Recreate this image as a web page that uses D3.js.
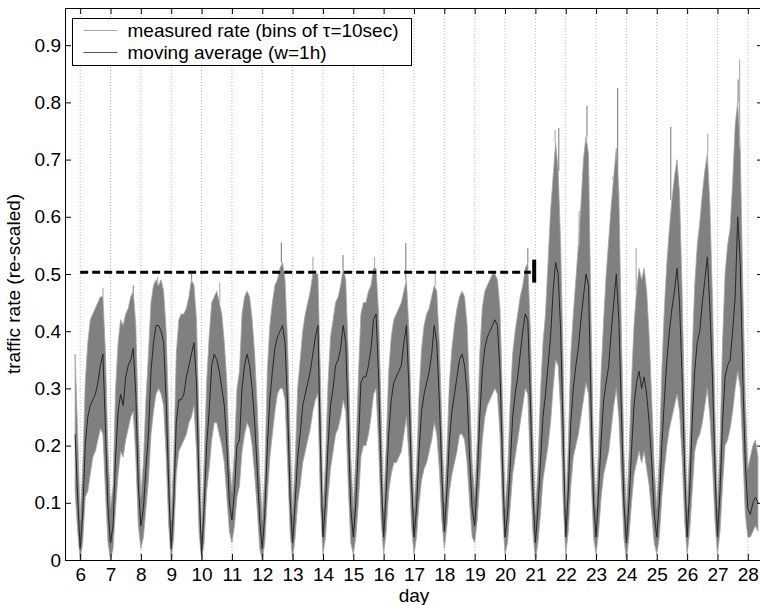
<!DOCTYPE html>
<html>
<head>
<meta charset="utf-8">
<script src="https://cdn.jsdelivr.net/npm/d3@7"></script>
<style>
  body { margin: 0; background: #fff; }
  svg { display: block; font-family: "Liberation Sans", Arial, sans-serif; }
</style>
</head>
<body>
<script>
var w = 760;
var h = 605;
var margin = {top: 8, right: -3, bottom: 45, left: 65};
var fontSize = "19px";

// samples every 2 hours, first sample at day 5 + 20h
var startDay = 5 + 20 / 24;
var stepDay = 2 / 24;

var dayTicks = [6, 7, 8, 9, 10, 11, 12, 13, 14, 15, 16, 17, 18, 19, 20, 21, 22, 23, 24, 25, 26, 27, 28];
var rateTicks = [0, 0.1, 0.2, 0.3, 0.4, 0.5, 0.6, 0.7, 0.8, 0.9];

// moving average (w=1h)
var meanRate = [
  0.22, 0.11,                                                          // day 5
  0.02, 0.08, 0.20, 0.25, 0.27, 0.28, 0.29, 0.31, 0.34, 0.36, 0.23, 0.09, // 6
  0.03, 0.06, 0.18, 0.26, 0.29, 0.27, 0.32, 0.34, 0.35, 0.37, 0.29, 0.13, // 7
  0.06, 0.09, 0.16, 0.22, 0.33, 0.38, 0.41, 0.41, 0.40, 0.38, 0.28, 0.13, // 8
  0.02, 0.10, 0.24, 0.28, 0.28, 0.29, 0.32, 0.34, 0.36, 0.38, 0.31, 0.13, // 9
  0.01, 0.09, 0.20, 0.26, 0.34, 0.36, 0.35, 0.33, 0.30, 0.27, 0.20, 0.10, // 10
  0.07, 0.12, 0.20, 0.21, 0.30, 0.34, 0.36, 0.34, 0.30, 0.24, 0.16, 0.07, // 11
  0.02, 0.08, 0.20, 0.28, 0.33, 0.37, 0.39, 0.40, 0.41, 0.38, 0.27, 0.11, // 12
  0.03, 0.10, 0.18, 0.22, 0.27, 0.29, 0.31, 0.33, 0.36, 0.39, 0.41, 0.20, // 13
  0.04, 0.10, 0.20, 0.27, 0.30, 0.34, 0.35, 0.37, 0.41, 0.38, 0.24, 0.09, // 14
  0.04, 0.10, 0.20, 0.31, 0.32, 0.32, 0.34, 0.37, 0.42, 0.43, 0.32, 0.15, // 15
  0.04, 0.12, 0.22, 0.28, 0.31, 0.32, 0.33, 0.34, 0.38, 0.41, 0.30, 0.14, // 16
  0.04, 0.09, 0.19, 0.26, 0.29, 0.31, 0.33, 0.36, 0.41, 0.38, 0.28, 0.15, // 17
  0.05, 0.12, 0.21, 0.26, 0.29, 0.32, 0.35, 0.36, 0.34, 0.29, 0.18, 0.09, // 18
  0.06, 0.14, 0.25, 0.33, 0.37, 0.39, 0.40, 0.41, 0.42, 0.41, 0.33, 0.17, // 19
  0.04, 0.08, 0.16, 0.25, 0.29, 0.32, 0.36, 0.40, 0.43, 0.42, 0.28, 0.12, // 20
  0.03, 0.09, 0.17, 0.25, 0.29, 0.34, 0.39, 0.47, 0.52, 0.50, 0.40, 0.22, // 21
  0.04, 0.12, 0.24, 0.30, 0.34, 0.37, 0.42, 0.46, 0.50, 0.48, 0.27, 0.10, // 22
  0.04, 0.12, 0.21, 0.28, 0.31, 0.34, 0.40, 0.45, 0.50, 0.42, 0.26, 0.10, // 23
  0.03, 0.10, 0.19, 0.27, 0.31, 0.33, 0.30, 0.32, 0.29, 0.24, 0.17, 0.08, // 24
  0.04, 0.10, 0.20, 0.28, 0.35, 0.40, 0.44, 0.47, 0.51, 0.45, 0.32, 0.16, // 25
  0.04, 0.12, 0.24, 0.33, 0.38, 0.40, 0.45, 0.49, 0.53, 0.44, 0.32, 0.16, // 26
  0.04, 0.12, 0.24, 0.32, 0.34, 0.35, 0.40, 0.46, 0.60, 0.52, 0.32, 0.17, // 27
  0.09, 0.08, 0.10, 0.11, 0.10                                          // 28
];

// measured rate (bins of 10 sec): upper and lower envelope
var upperRate = [
  0.36, 0.22,
  0.07, 0.16, 0.31, 0.38, 0.42, 0.43, 0.44, 0.45, 0.46, 0.46, 0.36, 0.19,
  0.09, 0.13, 0.30, 0.38, 0.42, 0.41, 0.43, 0.44, 0.46, 0.47, 0.41, 0.24,
  0.11, 0.17, 0.28, 0.36, 0.45, 0.48, 0.49, 0.48, 0.49, 0.47, 0.40, 0.25,
  0.07, 0.18, 0.36, 0.42, 0.43, 0.43, 0.44, 0.46, 0.49, 0.48, 0.42, 0.24,
  0.05, 0.17, 0.31, 0.39, 0.45, 0.46, 0.47, 0.45, 0.43, 0.38, 0.31, 0.17,
  0.12, 0.19, 0.30, 0.33, 0.43, 0.46, 0.47, 0.46, 0.42, 0.36, 0.27, 0.15,
  0.07, 0.15, 0.33, 0.41, 0.45, 0.48, 0.49, 0.51, 0.52, 0.49, 0.38, 0.22,
  0.08, 0.17, 0.30, 0.35, 0.40, 0.43, 0.45, 0.47, 0.50, 0.50, 0.50, 0.32,
  0.09, 0.17, 0.31, 0.39, 0.42, 0.45, 0.46, 0.48, 0.51, 0.49, 0.36, 0.18,
  0.09, 0.18, 0.32, 0.43, 0.45, 0.45, 0.47, 0.48, 0.51, 0.51, 0.43, 0.26,
  0.09, 0.20, 0.33, 0.39, 0.42, 0.43, 0.44, 0.45, 0.47, 0.49, 0.40, 0.24,
  0.09, 0.16, 0.29, 0.37, 0.41, 0.43, 0.44, 0.46, 0.48, 0.47, 0.38, 0.24,
  0.10, 0.19, 0.31, 0.37, 0.41, 0.44, 0.46, 0.47, 0.46, 0.41, 0.29, 0.17,
  0.11, 0.21, 0.36, 0.44, 0.47, 0.48, 0.49, 0.50, 0.50, 0.49, 0.44, 0.28,
  0.09, 0.15, 0.27, 0.36, 0.40, 0.43, 0.46, 0.48, 0.51, 0.52, 0.40, 0.22,
  0.08, 0.16, 0.29, 0.38, 0.43, 0.52, 0.61, 0.67, 0.73, 0.68, 0.55, 0.34,
  0.09, 0.20, 0.36, 0.43, 0.49, 0.55, 0.62, 0.70, 0.74, 0.71, 0.42, 0.19,
  0.09, 0.20, 0.33, 0.42, 0.50, 0.56, 0.62, 0.67, 0.72, 0.64, 0.40, 0.19,
  0.08, 0.18, 0.31, 0.41, 0.47, 0.51, 0.49, 0.51, 0.47, 0.39, 0.28, 0.16,
  0.09, 0.18, 0.33, 0.44, 0.52, 0.58, 0.63, 0.67, 0.70, 0.64, 0.47, 0.26,
  0.09, 0.20, 0.36, 0.48, 0.55, 0.59, 0.64, 0.68, 0.71, 0.62, 0.46, 0.26,
  0.09, 0.20, 0.38, 0.50, 0.55, 0.58, 0.66, 0.76, 0.80, 0.72, 0.48, 0.28,
  0.16, 0.18, 0.20, 0.21, 0.18
];

var lowerRate = [
  0.12, 0.05,
  0.00, 0.03, 0.11, 0.12, 0.15, 0.18, 0.19, 0.21, 0.23, 0.22, 0.12, 0.03,
  0.00, 0.02, 0.09, 0.15, 0.19, 0.18, 0.21, 0.23, 0.25, 0.26, 0.18, 0.06,
  0.02, 0.04, 0.09, 0.14, 0.22, 0.26, 0.29, 0.30, 0.29, 0.27, 0.18, 0.06,
  0.00, 0.04, 0.15, 0.19, 0.20, 0.21, 0.22, 0.24, 0.25, 0.27, 0.19, 0.05,
  0.00, 0.03, 0.12, 0.16, 0.21, 0.24, 0.24, 0.22, 0.20, 0.17, 0.11, 0.05,
  0.03, 0.06, 0.11, 0.13, 0.19, 0.22, 0.24, 0.23, 0.20, 0.15, 0.09, 0.02,
  0.00, 0.03, 0.11, 0.18, 0.22, 0.26, 0.29, 0.30, 0.30, 0.28, 0.17, 0.05,
  0.00, 0.04, 0.10, 0.13, 0.17, 0.19, 0.21, 0.23, 0.26, 0.28, 0.29, 0.10,
  0.01, 0.04, 0.11, 0.16, 0.19, 0.22, 0.23, 0.25, 0.28, 0.26, 0.13, 0.03,
  0.01, 0.04, 0.10, 0.18, 0.20, 0.20, 0.22, 0.25, 0.29, 0.30, 0.20, 0.07,
  0.01, 0.05, 0.12, 0.15, 0.17, 0.17, 0.18, 0.19, 0.22, 0.25, 0.18, 0.06,
  0.01, 0.04, 0.10, 0.14, 0.16, 0.17, 0.19, 0.21, 0.24, 0.22, 0.16, 0.07,
  0.02, 0.06, 0.12, 0.15, 0.17, 0.19, 0.22, 0.22, 0.21, 0.17, 0.10, 0.04,
  0.03, 0.07, 0.14, 0.21, 0.25, 0.27, 0.28, 0.29, 0.30, 0.29, 0.22, 0.08,
  0.01, 0.03, 0.09, 0.15, 0.18, 0.21, 0.24, 0.27, 0.30, 0.29, 0.16, 0.05,
  0.00, 0.03, 0.08, 0.14, 0.17, 0.20, 0.24, 0.30, 0.35, 0.34, 0.26, 0.10,
  0.01, 0.05, 0.13, 0.18, 0.20, 0.22, 0.25, 0.28, 0.31, 0.29, 0.15, 0.04,
  0.01, 0.05, 0.11, 0.15, 0.17, 0.19, 0.23, 0.27, 0.30, 0.25, 0.14, 0.04,
  0.00, 0.04, 0.10, 0.15, 0.17, 0.19, 0.17, 0.19, 0.16, 0.13, 0.08, 0.03,
  0.01, 0.04, 0.11, 0.16, 0.20, 0.23, 0.25, 0.27, 0.29, 0.26, 0.18, 0.07,
  0.01, 0.05, 0.12, 0.19, 0.21, 0.22, 0.24, 0.27, 0.30, 0.25, 0.17, 0.07,
  0.01, 0.05, 0.13, 0.20, 0.21, 0.23, 0.26, 0.30, 0.33, 0.30, 0.19, 0.08,
  0.04, 0.04, 0.05, 0.06, 0.05
];

// single tall bins sticking out of the band
var spikeDays = [6.75, 7.75, 8.55, 9.67, 10.6, 12.63, 13.67, 14.66, 15.7, 16.73, 17.7, 18.6, 19.6, 20.75,
                 21.65, 21.77, 22.44, 22.7, 23.55, 23.71, 24.32, 25.46, 26.68, 27.68, 27.73];
var spikeValues = [0.476, 0.48, 0.495, 0.50, 0.485, 0.555, 0.53, 0.533, 0.53, 0.554, 0.50, 0.47, 0.505, 0.545,
                   0.752, 0.755, 0.61, 0.794, 0.665, 0.825, 0.545, 0.757, 0.745, 0.84, 0.875];

// dashed reference level and its end marker
var levelValue = 0.503;
var levelFrom = 6;
var levelTo = 20.85;
var markerDay = 20.96;
var markerRange = [0.485, 0.525];

var legendLabels = ["measured rate (bins of \u03c4=10sec)", "moving average (w=1h)"];
var legendColors = ["#a8a8a8", "#555555"];

var svg = d3.select("body")
    .append("svg")
    .attr("width", w)
    .attr("height", h);

var x = d3.scaleLinear().domain([5.5, 28.5]).range([margin.left, w - margin.right]);
var y = d3.scaleLinear().domain([0, 0.965]).range([h - margin.bottom, margin.top]);

var dayOf = function(i){ return startDay + i * stepDay; };

// vertical dotted grid
svg.append("g")
    .selectAll("line")
    .data(dayTicks)
    .enter()
    .append("line")
    .attr("x1", function(d){ return x(d); })
    .attr("x2", function(d){ return x(d); })
    .attr("y1", y(0))
    .attr("y2", y(0.965))
    .attr("stroke", "#b8b8b8")
    .attr("stroke-width", 1)
    .attr("stroke-dasharray", "1,2");

// measured rate band
var band = d3.area()
    .x(function(d, i){ return x(dayOf(i)); })
    .y0(function(d, i){ return y(lowerRate[i]); })
    .y1(function(d, i){ return y(upperRate[i]); });

svg.append("path")
    .datum(meanRate)
    .attr("d", band)
    .attr("fill", "#808080")
    .attr("stroke", "#a6a6a6")
    .attr("stroke-width", 0.8);

svg.append("g")
    .selectAll("line")
    .data(spikeDays)
    .enter()
    .append("line")
    .attr("x1", function(d){ return x(d); })
    .attr("x2", function(d){ return x(d); })
    .attr("y1", function(d){ return y(upperRate[Math.round((d - startDay) / stepDay)]); })
    .attr("y2", function(d, i){ return y(spikeValues[i]); })
    .attr("stroke", function(d, i){ return i % 2 ? "#8a8a8a" : "#b0b0b0"; })
    .attr("stroke-width", 1.2);

// moving average
var avgLine = d3.line()
    .x(function(d, i){ return x(dayOf(i)); })
    .y(function(d){ return y(d); });

svg.append("path")
    .datum(meanRate)
    .attr("d", avgLine)
    .attr("fill", "none")
    .attr("stroke", "#262626")
    .attr("stroke-width", 1);

// dashed level + marker
svg.append("line")
    .attr("x1", x(levelFrom))
    .attr("x2", x(levelTo))
    .attr("y1", y(levelValue))
    .attr("y2", y(levelValue))
    .attr("stroke", "#000")
    .attr("stroke-width", 3)
    .attr("stroke-dasharray", "8,4");

svg.append("line")
    .attr("x1", x(markerDay))
    .attr("x2", x(markerDay))
    .attr("y1", y(markerRange[0]))
    .attr("y2", y(markerRange[1]))
    .attr("stroke", "#000")
    .attr("stroke-width", 4);

// axes (ticks point inward, box around the plot)
function styleAxis(g){
    g.selectAll("path, line").attr("stroke", "#000");
    g.selectAll("text")
        .attr("fill", "#000")
        .attr("font-size", fontSize)
        .attr("font-family", "Liberation Sans, Arial, sans-serif");
}

svg.append("g")
    .attr("transform", "translate(0," + y(0) + ")")
    .call(d3.axisBottom(x).tickValues(dayTicks).tickSizeInner(-6).tickSizeOuter(0).tickPadding(8))
    .call(styleAxis);

svg.append("g")
    .attr("transform", "translate(0," + y(0.965) + ")")
    .call(d3.axisTop(x).tickValues(dayTicks).tickSizeInner(-6).tickSizeOuter(0).tickFormat(""))
    .call(styleAxis);

svg.append("g")
    .attr("transform", "translate(" + x(5.5) + ",0)")
    .call(d3.axisLeft(y).tickValues(rateTicks).tickSizeInner(-6).tickSizeOuter(0).tickPadding(4)
        .tickFormat(function(d){ return d === 0 ? "0" : d.toFixed(1); }))
    .call(styleAxis);

svg.append("g")
    .attr("transform", "translate(" + x(28.5) + ",0)")
    .call(d3.axisRight(y).tickValues(rateTicks).tickSizeInner(-6).tickSizeOuter(0).tickFormat(""))
    .call(styleAxis);

// axis titles
svg.append("text")
    .text("day")
    .attr("x", (x(5.5) + x(28.5)) / 2)
    .attr("y", 602)
    .attr("text-anchor", "middle")
    .attr("font-size", fontSize);

svg.append("text")
    .text("traffic rate (re-scaled)")
    .attr("transform", "translate(20," + (y(0) + y(0.965)) / 2 + ") rotate(-90)")
    .attr("text-anchor", "middle")
    .attr("font-size", fontSize);

// legend
var legend = svg.append("g").attr("transform", "translate(72.5,18.5)");

legend.append("rect")
    .attr("width", 339)
    .attr("height", 47)
    .attr("fill", "#fff")
    .attr("stroke", "#000")
    .attr("stroke-width", 1);

legend.selectAll("line")
    .data(legendLabels)
    .enter()
    .append("line")
    .attr("x1", 11)
    .attr("x2", 45)
    .attr("y1", function(d, i){ return 12 + i * 22; })
    .attr("y2", function(d, i){ return 12 + i * 22; })
    .attr("stroke", function(d, i){ return legendColors[i]; })
    .attr("stroke-width", 1);

legend.selectAll("text")
    .data(legendLabels)
    .enter()
    .append("text")
    .text(function(d){ return d; })
    .attr("x", 55)
    .attr("y", function(d, i){ return 18.5 + i * 22; })
    .attr("font-size", fontSize)
    .attr("fill", "#000");
</script>
</body>
</html>
